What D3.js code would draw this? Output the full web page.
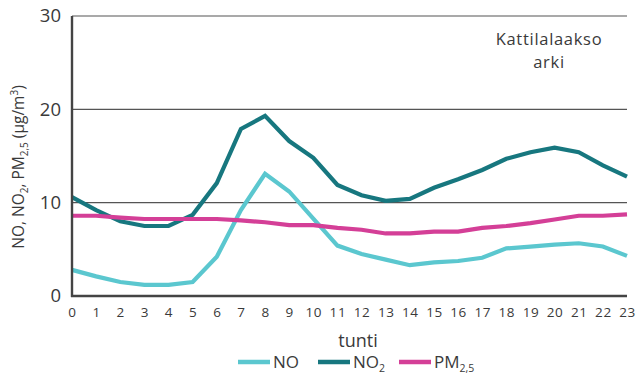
<!DOCTYPE html>
<html>
<head>
<meta charset="utf-8">
<script src="https://cdn.jsdelivr.net/npm/d3@7"></script>
<style>
  html, body { margin: 0; padding: 0; background: #fff; }
  svg { display: block; }
  text { font-family: "Open Sans", "Lato", sans-serif; fill: #3a3a3a; }
</style>
</head>
<body>
<svg id="chart" width="639" height="378"></svg>
<script>
// Hourly mean concentrations, weekday, Kattilalaakso
const hours = d3.range(0, 24);
const noValues  = [2.8, 2.1, 1.5, 1.2, 1.2, 1.5, 4.2, 9.2, 13.1, 11.2, 8.3, 5.4, 4.5, 3.9, 3.3, 3.6, 3.75, 4.1, 5.1, 5.3, 5.5, 5.65, 5.3, 4.3];
const no2Values = [10.6, 9.2, 8.0, 7.5, 7.5, 8.7, 12.1, 17.9, 19.3, 16.6, 14.8, 11.9, 10.8, 10.2, 10.4, 11.6, 12.5, 13.5, 14.7, 15.4, 15.9, 15.4, 14.0, 12.8];
const pmValues  = [8.6, 8.6, 8.4, 8.25, 8.25, 8.25, 8.25, 8.1, 7.9, 7.6, 7.6, 7.3, 7.1, 6.7, 6.7, 6.9, 6.9, 7.3, 7.5, 7.8, 8.2, 8.6, 8.6, 8.75];
const yTicks = [0, 10, 20, 30];

const series = [
  { name: "NO",  sub: "",    values: noValues,  color: "#5bc7cf" },
  { name: "NO",  sub: "2",   values: no2Values, color: "#17777f" },
  { name: "PM",  sub: "2,5", values: pmValues,  color: "#d43f97" }
];

const font = "'Open Sans', Lato, sans-serif";
const svg = d3.select("#chart");
const plotLeft = 72, plotRight = 627, plotTop = 16, plotBottom = 296;

const x = d3.scaleLinear().domain([0, 23]).range([plotLeft, plotRight]);
const y = d3.scaleLinear().domain([0, 30]).range([plotBottom, plotTop]);

// horizontal grid lines
svg.append("g")
  .selectAll("line")
  .data(yTicks.filter(d => d > 0))
  .join("line")
  .attr("x1", plotLeft).attr("x2", plotRight)
  .attr("y1", d => y(d)).attr("y2", d => y(d))
  .attr("stroke", "#555").attr("stroke-width", 1.2);

// y axis labels
const yAxis = d3.axisLeft(y).tickValues(yTicks).tickSize(0).tickPadding(11);
svg.append("g")
  .attr("transform", `translate(${plotLeft},0)`)
  .call(yAxis)
  .call(g => g.select(".domain").remove())
  .call(g => g.selectAll("text")
    .style("font-family", font)
    .style("font-size", "18.5px").attr("fill", "#3a3a3a"));

// x axis labels
const xAxis = d3.axisBottom(x).tickValues(hours).tickSize(0).tickPadding(11).tickFormat(d3.format("d"));
svg.append("g")
  .attr("transform", `translate(0,${plotBottom})`)
  .call(xAxis)
  .call(g => g.select(".domain").remove())
  .call(g => g.selectAll("text")
    .style("font-family", font)
    .style("font-size", "13.5px")
    .style("letter-spacing", "0.6px")
    .attr("fill", "#3a3a3a"));

// series lines
const line = d3.line().x((d, i) => x(hours[i])).y(d => y(d));
svg.append("g")
  .selectAll("path")
  .data(series)
  .join("path")
  .attr("d", d => line(d.values))
  .attr("fill", "none")
  .attr("stroke", d => d.color)
  .attr("stroke-width", 4.2)
  .attr("stroke-linejoin", "miter");

// axis lines
svg.append("line")
  .attr("x1", plotLeft).attr("x2", plotLeft).attr("y1", plotTop).attr("y2", plotBottom + 1)
  .attr("stroke", "#444").attr("stroke-width", 2.4);
svg.append("line")
  .attr("x1", plotLeft - 1).attr("x2", plotRight).attr("y1", plotBottom).attr("y2", plotBottom)
  .attr("stroke", "#444").attr("stroke-width", 2.4);

// axis titles
const yt = svg.append("text")
  .attr("transform", "translate(24,167) rotate(-90)")
  .attr("text-anchor", "middle")
  .style("font-size", "15.5px");
yt.append("tspan").text("NO, NO");
yt.append("tspan").text("2").attr("dy", 4).style("font-size", "10px");
yt.append("tspan").text(", PM").attr("dy", -4);
yt.append("tspan").text("2,5").attr("dy", 4).style("font-size", "10px");
yt.append("tspan").text(" (µg/m").attr("dy", -4);
yt.append("tspan").text("3").attr("dy", -6).style("font-size", "10px");
yt.append("tspan").text(")").attr("dy", 6);

svg.append("text")
  .attr("x", 358).attr("y", 347)
  .attr("text-anchor", "middle")
  .style("font-size", "18px")
  .text("tunti");

// station / day-type label
svg.append("text").attr("x", 549).attr("y", 45)
  .attr("text-anchor", "middle").style("font-size", "16.5px")
  .style("letter-spacing", "0.7px").text("Kattilalaakso");
svg.append("text").attr("x", 549).attr("y", 68)
  .attr("text-anchor", "middle").style("font-size", "16.5px")
  .style("letter-spacing", "0.7px").text("arki");

// legend
const legendX = [238, 318, 399];
const lg = svg.append("g");
series.forEach((s, i) => {
  const gx = legendX[i];
  lg.append("line")
    .attr("x1", gx).attr("x2", gx + 32)
    .attr("y1", 362).attr("y2", 362)
    .attr("stroke", s.color).attr("stroke-width", 4.5);
  const t = lg.append("text")
    .attr("x", gx + 35).attr("y", 368)
    .style("font-size", "17px");
  t.append("tspan").text(s.name);
  if (s.sub) t.append("tspan").text(s.sub).attr("dy", 4).style("font-size", "10.5px");
});
</script>
</body>
</html>
